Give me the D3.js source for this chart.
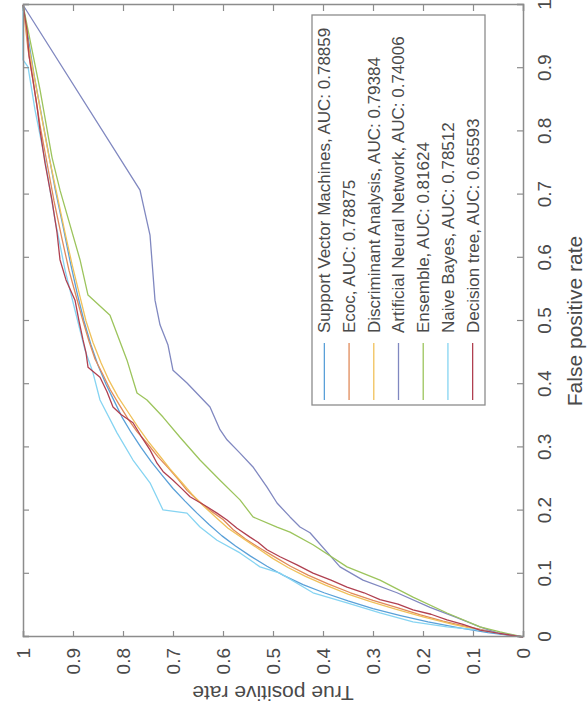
<!DOCTYPE html>
<html>
<head>
<meta charset="utf-8">
<script src="https://cdn.jsdelivr.net/npm/d3@7"></script>
<style>
  body { margin: 0; background: #fff; }
  text { font-family: "Liberation Sans", Arial, sans-serif; fill: #4a4a4a; }
</style>
</head>
<body>
<div id="chart"></div>
<script>
// Series names (legend order) and colours
const seriesNames = [
    'Support Vector Machines, AUC: 0.78859',
    'Ecoc, AUC: 0.78875',
    'Discriminant Analysis, AUC: 0.79384',
    'Artificial Neural Network, AUC: 0.74006',
    'Ensemble, AUC: 0.81624',
    'Naive Bayes, AUC: 0.78512',
    'Decision tree, AUC: 0.65593'
];
const seriesColors = ['#5aa0d8', '#e08a5a', '#f0c15a', '#8088c0', '#9cc45c', '#86d4f2', '#b04050'];

// ROC points
const svmFpr = [0,0.007,0.015,0.024,0.034,0.045,0.057,0.070,0.083,0.097,0.112,0.128,0.144,0.160,0.178,0.196,0.215,0.235,0.256,0.278,0.300,0.324,0.348,0.374,0.400,0.430,0.462,0.500,0.545,0.595,0.650,0.710,0.770,0.830,0.890,0.950,1];
const svmTpr = [0,0.070,0.130,0.190,0.245,0.300,0.350,0.398,0.440,0.478,0.512,0.545,0.575,0.602,0.628,0.652,0.676,0.700,0.722,0.744,0.764,0.784,0.802,0.818,0.834,0.850,0.864,0.878,0.892,0.906,0.920,0.936,0.950,0.964,0.978,0.990,1];

const ecocFpr = [0,0.008,0.016,0.025,0.035,0.046,0.058,0.070,0.084,0.098,0.112,0.126,0.140,0.155,0.170,0.186,0.200,0.216,0.232,0.250,0.268,0.285,0.305,0.325,0.345,0.368,0.392,0.415,0.440,0.468,0.500,0.540,0.580,0.630,0.690,0.750,0.810,0.870,0.930,1];
const ecocTpr = [0,0.060,0.110,0.160,0.205,0.250,0.300,0.345,0.390,0.430,0.465,0.495,0.525,0.555,0.580,0.600,0.625,0.650,0.672,0.690,0.710,0.730,0.750,0.772,0.790,0.808,0.826,0.840,0.856,0.868,0.880,0.894,0.908,0.922,0.938,0.952,0.966,0.978,0.990,1];

const discFpr = [0,0.010,0.020,0.032,0.044,0.056,0.068,0.082,0.096,0.110,0.124,0.140,0.156,0.172,0.190,0.208,0.226,0.246,0.266,0.288,0.310,0.332,0.356,0.380,0.406,0.434,0.466,0.500,0.545,0.590,0.640,0.700,0.760,0.820,0.880,0.940,1];
const discTpr = [0,0.080,0.140,0.200,0.255,0.305,0.350,0.395,0.435,0.470,0.500,0.530,0.560,0.590,0.615,0.640,0.662,0.684,0.706,0.728,0.750,0.770,0.790,0.810,0.828,0.844,0.860,0.874,0.888,0.902,0.916,0.932,0.948,0.962,0.976,0.990,1];

const annFpr = [0,0.005,0.016,0.032,0.047,0.070,0.090,0.111,0.165,0.174,0.190,0.212,0.237,0.269,0.291,0.312,0.328,0.364,0.402,0.422,0.462,0.494,0.533,0.636,0.707,1];
const annTpr = [0,0.046,0.086,0.136,0.186,0.252,0.320,0.366,0.426,0.446,0.466,0.492,0.512,0.540,0.566,0.592,0.606,0.626,0.672,0.700,0.710,0.726,0.736,0.746,0.766,1];

const ensFpr = [0,0.008,0.016,0.038,0.063,0.090,0.111,0.146,0.166,0.174,0.190,0.217,0.248,0.280,0.316,0.348,0.375,0.386,0.438,0.509,0.541,0.597,0.707,0.759,0.866,0.945,1];
const ensTpr = [0,0.046,0.086,0.152,0.220,0.286,0.352,0.420,0.466,0.492,0.540,0.566,0.606,0.646,0.686,0.720,0.752,0.772,0.792,0.826,0.870,0.886,0.926,0.942,0.966,0.986,1];

const nbFpr = [0,0.011,0.016,0.024,0.038,0.054,0.070,0.101,0.111,0.133,0.153,0.174,0.196,0.201,0.244,0.280,0.323,0.375,0.418,0.454,0.517,0.581,0.660,0.755,0.834,0.902,0.913,1];
const nbTpr = [0,0.086,0.152,0.220,0.286,0.352,0.420,0.486,0.526,0.566,0.612,0.646,0.672,0.720,0.746,0.780,0.812,0.846,0.860,0.876,0.896,0.916,0.936,0.956,0.976,0.990,1,1];

const treeFpr = [0,0.006,0.011,0.020,0.027,0.036,0.043,0.052,0.059,0.070,0.079,0.090,0.101,0.114,0.127,0.138,0.150,0.158,0.172,0.185,0.196,0.206,0.222,0.236,0.248,0.262,0.275,0.296,0.318,0.339,0.352,0.364,0.388,0.411,0.427,0.450,0.470,0.500,0.533,0.565,0.597,0.640,0.691,0.750,0.802,0.840,0.881,0.920,0.960,1];
const treeTpr = [0,0.050,0.086,0.120,0.152,0.184,0.220,0.250,0.286,0.318,0.352,0.384,0.420,0.452,0.486,0.512,0.530,0.546,0.572,0.592,0.612,0.632,0.666,0.684,0.700,0.720,0.732,0.746,0.764,0.780,0.804,0.820,0.832,0.846,0.870,0.874,0.880,0.888,0.896,0.914,0.926,0.932,0.942,0.956,0.966,0.972,0.980,0.988,0.992,1];

// Axis ticks
const tickValues = [0, 0.1, 0.2, 0.3, 0.4, 0.5, 0.6, 0.7, 0.8, 0.9, 1];
const tickLabels = ['0', '0.1', '0.2', '0.3', '0.4', '0.5', '0.6', '0.7', '0.8', '0.9', '1'];

const xLabel = 'False positive rate';
const yLabel = 'True positive rate';

const fprSets = [svmFpr, ecocFpr, discFpr, annFpr, ensFpr, nbFpr, treeFpr];
const tprSets = [svmTpr, ecocTpr, discTpr, annTpr, ensTpr, nbTpr, treeTpr];

// The figure is drawn as a normal ROC plot, then turned a quarter turn counter-clockwise
const svgWidth = 587;
const svgHeight = 717;
const plotW = 632;   // FPR axis length
const plotH = 500;   // TPR axis length
const axisColor = '#8c8c8c';

const svg = d3.select('#chart').append('svg')
    .attr('width', svgWidth)
    .attr('height', svgHeight);

const g = svg.append('g')
    .attr('transform', 'translate(23,637) rotate(-90)');

const xScale = d3.scaleLinear().domain([0, 1]).range([0, plotW]);
const yScale = d3.scaleLinear().domain([0, 1]).range([plotH, 0]);
const fmt = v => tickLabels[tickValues.indexOf(v)];

// curves
const line = d3.line()
    .x(d => xScale(d[0]))
    .y(d => yScale(d[1]));

fprSets.forEach((fpr, i) => {
    const pts = fpr.map((f, j) => [f, tprSets[i][j]]);
    g.append('path')
        .datum(pts)
        .attr('fill', 'none')
        .attr('stroke', seriesColors[i])
        .attr('stroke-width', 1.3)
        .attr('stroke-linejoin', 'round')
        .attr('d', line);
});

// axes (ticks inside, box on)
const bottomAxis = g.append('g')
    .attr('transform', `translate(0,${plotH})`)
    .call(d3.axisBottom(xScale).tickValues(tickValues).tickFormat(fmt).tickSize(-6).tickPadding(15));
const leftAxis = g.append('g')
    .call(d3.axisLeft(yScale).tickValues(tickValues).tickFormat(fmt).tickSize(-6).tickPadding(11));
const topAxis = g.append('g')
    .call(d3.axisTop(xScale).tickValues(tickValues).tickFormat('').tickSize(-6));
const rightAxis = g.append('g')
    .attr('transform', `translate(${plotW},0)`)
    .call(d3.axisRight(yScale).tickValues(tickValues).tickFormat('').tickSize(-6));

[bottomAxis, leftAxis, topAxis, rightAxis].forEach(ax => {
    ax.select('.domain').attr('stroke', axisColor).attr('stroke-width', 1.5);
    ax.selectAll('.tick line').attr('stroke', axisColor).attr('stroke-width', 1.2);
    ax.selectAll('.tick text')
        .style('font-family', '"Liberation Sans", Arial, sans-serif')
        .style('font-size', '19px')
        .attr('fill', '#4a4a4a');
});

// axis titles
g.append('text')
    .attr('x', plotW / 2)
    .attr('y', plotH + 52)
    .attr('dy', '0.35em')
    .style('text-anchor', 'middle')
    .style('font-size', '21px')
    .text(xLabel);

g.append('text')
    .attr('transform', 'rotate(-90)')
    .attr('x', -plotH / 2)
    .attr('y', -56)
    .attr('dy', '0.35em')
    .style('text-anchor', 'middle')
    .style('font-size', '21px')
    .text(yLabel);

// legend (southeast)
const legendX = 232, legendY = 289, legendW = 390, legendH = 173;
const legend = g.append('g');
legend.append('rect')
    .attr('x', legendX)
    .attr('y', legendY)
    .attr('width', legendW)
    .attr('height', legendH)
    .attr('fill', '#fff')
    .attr('stroke', axisColor)
    .attr('stroke-width', 1.3);

const rowH = legendH / seriesNames.length;
seriesNames.forEach((name, i) => {
    const cy = legendY + rowH * (i + 0.5);
    legend.append('line')
        .attr('x1', legendX + 5)
        .attr('x2', legendX + 62)
        .attr('y1', cy)
        .attr('y2', cy)
        .attr('stroke', seriesColors[i])
        .attr('stroke-width', 1.3);
    legend.append('text')
        .attr('x', legendX + 72)
        .attr('y', cy)
        .attr('dy', '0.35em')
        .style('font-size', '17px')
        .text(name);
});
</script>
</body>
</html>
